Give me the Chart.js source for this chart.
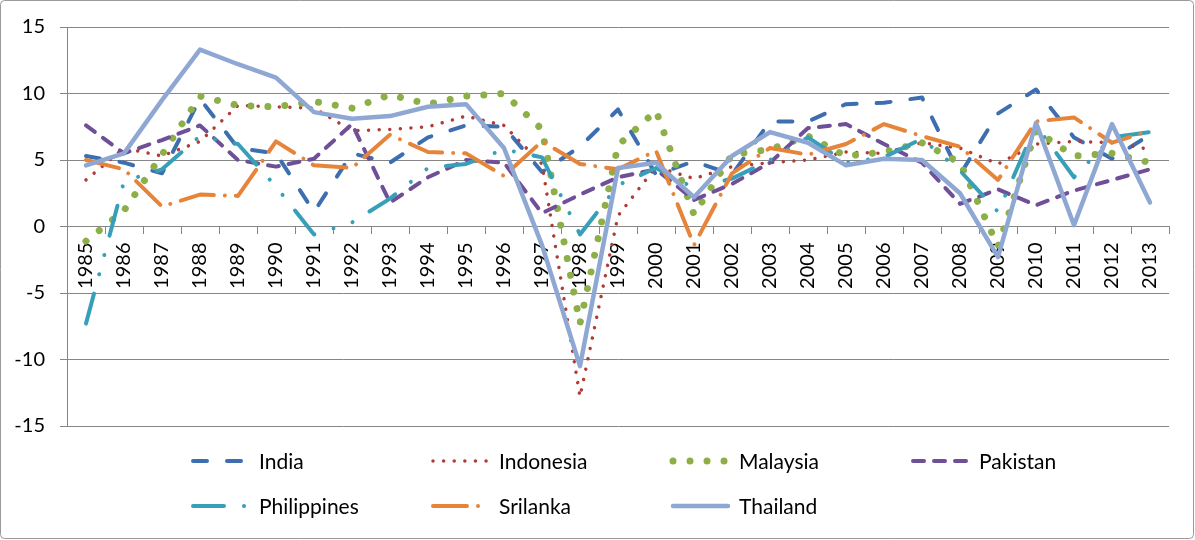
<!DOCTYPE html>
<html>
<head>
<meta charset="utf-8">
<title>GDP growth</title>
<script src="https://cdn.jsdelivr.net/npm/chart.js"></script>
<style>
  html, body { margin: 0; padding: 0; background: #fff; }
  #chart { display: block; }
</style>
</head>
<body>
<canvas id="chart" width="1195" height="540"></canvas>
<script>
// years on the category axis
const years = ['1985', '1986', '1987', '1988', '1989', '1990', '1991', '1992', '1993', '1994',
  '1995', '1996', '1997', '1998', '1999', '2000', '2001', '2002', '2003', '2004',
  '2005', '2006', '2007', '2008', '2009', '2010', '2011', '2012', '2013'];

// values (growth, %)
const india = [5.3, 4.8, 4.0, 9.6, 5.9, 5.5, 1.1, 5.5, 4.8, 6.7, 7.6, 7.5, 4.1, 6.0, 8.8, 3.9, 4.9, 3.9, 7.9, 7.9, 9.2, 9.3, 9.7, 3.9, 8.5, 10.3, 6.7, 5.1, 6.9];
const indonesia = [3.5, 5.9, 5.3, 6.4, 9.1, 9.0, 8.9, 7.2, 7.3, 7.5, 8.3, 7.6, 4.7, -12.8, 0.8, 4.5, 3.6, 4.5, 4.8, 5.0, 5.6, 5.5, 6.3, 5.9, 4.7, 6.2, 6.4, 6.3, 5.8];
const malaysia = [-1.1, 1.2, 5.4, 9.8, 9.1, 9.0, 9.4, 8.9, 9.9, 9.2, 9.8, 10.0, 7.3, -7.3, 6.1, 8.7, 0.9, 5.4, 5.8, 6.8, 5.3, 5.6, 6.3, 4.8, -1.5, 7.2, 5.3, 5.5, 4.8];
const pakistan = [7.6, 5.5, 6.5, 7.6, 5.0, 4.5, 5.1, 7.7, 1.8, 3.7, 5.0, 4.8, 1.0, 2.4, 3.7, 4.3, 2.0, 3.2, 4.8, 7.4, 7.7, 6.2, 4.8, 1.7, 2.8, 1.6, 2.7, 3.5, 4.3];
const philippines = [-7.3, 3.4, 4.3, 6.8, 6.2, 3.0, -0.6, 0.3, 2.1, 4.4, 4.7, 5.8, 5.2, -0.6, 3.1, 4.4, 2.9, 3.6, 5.0, 6.7, 4.8, 5.2, 6.6, 4.2, 1.1, 7.6, 3.7, 6.7, 7.1];
const srilanka = [5.0, 4.3, 1.5, 2.4, 2.3, 6.4, 4.6, 4.4, 6.9, 5.6, 5.5, 3.8, 6.4, 4.7, 4.3, 5.7, -1.4, 4.0, 5.9, 5.4, 6.2, 7.7, 6.8, 6.0, 3.5, 7.9, 8.2, 6.3, 7.2];
const thailand = [4.6, 5.5, 9.5, 13.3, 12.2, 11.2, 8.6, 8.1, 8.3, 9.0, 9.2, 5.9, -1.4, -10.5, 4.4, 4.8, 2.2, 5.3, 7.1, 6.3, 4.6, 5.1, 5.0, 2.5, -2.3, 7.8, 0.1, 7.7, 1.8];

const FONT = 'Lato, "Open Sans", "DejaVu Sans", sans-serif';
const GRID = '#868686';

function series(label, data, color, width, dash, order) {
  return {
    label: label,
    data: data,
    borderColor: color,
    backgroundColor: color,
    borderWidth: width,
    borderDash: dash,
    borderCapStyle: 'round',
    borderJoinStyle: 'round',
    pointRadius: 0,
    tension: 0,
    fill: false,
    order: order
  };
}

// white page + thin outer frame
const framePlugin = {
  id: 'frame',
  beforeDraw(chart) {
    const ctx = chart.ctx;
    ctx.save();
    ctx.fillStyle = '#fff';
    ctx.fillRect(0, 0, chart.width, chart.height);
    ctx.strokeStyle = '#9a9a9a';
    ctx.lineWidth = 1;
    ctx.beginPath();
    ctx.roundRect(0.5, 0.5, chart.width - 2, chart.height - 2, 4);
    ctx.stroke();
    ctx.restore();
  }
};

// legend drawn in a 4-column grid under the plot, using each dataset's own style
const gridLegend = {
  id: 'gridLegend',
  afterDraw(chart) {
    const ctx = chart.ctx;
    ctx.save();
    chart.data.datasets.forEach((ds, i) => {
      const col = i % 4, row = Math.floor(i / 4);
      const x0 = 193 + col * 240;
      const y = 461 + row * 45;
      ctx.strokeStyle = ds.borderColor;
      ctx.lineWidth = ds.borderWidth;
      ctx.lineCap = 'round';
      ctx.setLineDash(ds.borderDash || []);
      ctx.beginPath();
      ctx.moveTo(x0, y);
      ctx.lineTo(x0 + 55, y);
      ctx.stroke();
      ctx.setLineDash([]);
      ctx.fillStyle = '#000';
      ctx.font = '21px ' + FONT;
      ctx.textBaseline = 'middle';
      ctx.textAlign = 'left';
      ctx.fillText(ds.label, x0 + 66, y + 1);
    });
    ctx.restore();
  }
};

new Chart(document.getElementById('chart'), {
  type: 'line',
  data: {
    labels: years,
    datasets: [
      series('India', india, '#3d6fb0', 4, [14, 20], 7),
      series('Indonesia', indonesia, '#b03b37', 3.5, [0.01, 10.6], 6),
      series('Malaysia', malaysia, '#8caf48', 7, [0.01, 17], 5),
      series('Pakistan', pakistan, '#6f5098', 4, [11, 10], 4),
      series('Philippines', philippines, '#37a0b8', 4, [31, 20, 0.01, 20, 0.01, 20], 3),
      series('Srilanka', srilanka, '#e6853a', 4, [34, 11, 0.01, 11], 2),
      series('Thailand', thailand, '#8fa8d3', 4.5, [], 1)
    ]
  },
  options: {
    responsive: false,
    animation: false,
    layout: { padding: { left: 0, top: 25, right: 26, bottom: 114 } },
    plugins: {
      legend: { display: false },
      tooltip: { enabled: false }
    },
    scales: {
      x: {
        type: 'category',
        position: { y: 0 },
        offset: true,
        grid: { offset: true, drawOnChartArea: false, drawTicks: true, tickLength: 7, color: GRID, lineWidth: 1 },
        border: { display: true, color: GRID, width: 1 },
        ticks: {
          autoSkip: false, minRotation: 90, maxRotation: 90, padding: 9,
          color: '#000', font: { family: FONT, size: 20 }
        },
        afterFit(scale) { scale.height = 0; }
      },
      y: {
        min: -15,
        max: 15,
        ticks: { stepSize: 5, padding: 15, color: '#000', font: { family: FONT, size: 20 } },
        grid: { color: GRID, tickLength: 7, lineWidth: 1 },
        border: { display: true, color: GRID, width: 1 },
        afterFit(scale) { scale.width = 67; }
      }
    }
  },
  plugins: [framePlugin, gridLegend]
});
</script>
</body>
</html>
